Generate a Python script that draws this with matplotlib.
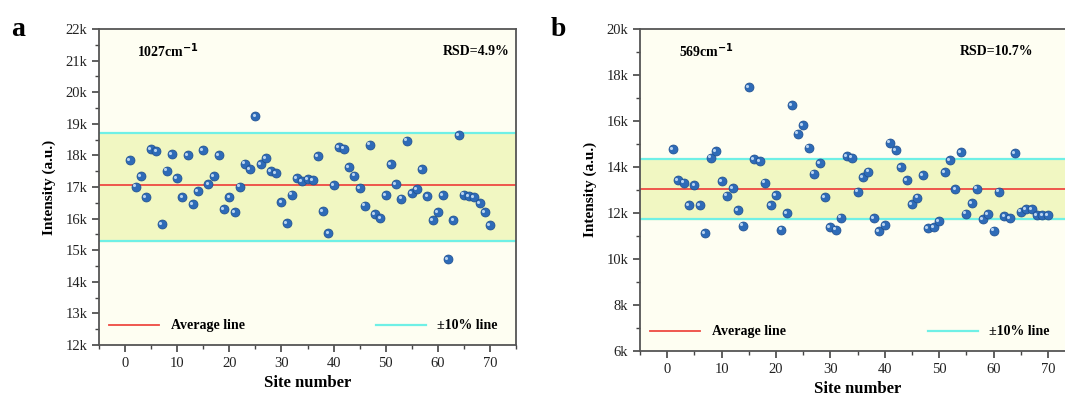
import matplotlib
matplotlib.use("Agg")
import matplotlib.pyplot as plt
from matplotlib.ticker import FuncFormatter, MultipleLocator
from matplotlib.lines import Line2D
import numpy as np

plt.rcParams['font.family'] = ['Liberation Serif', 'DejaVu Serif']

# Panel a: 1027 cm-1 band intensity per site
sites = np.arange(1, 71)
int_a = [17850, 17010, 17340, 16670, 18200, 18130, 15830, 17520, 18030, 17280,
         16690, 18000, 16460, 16870, 18160, 17100, 17350, 18010, 16310, 16680,
         16210, 17010, 17740, 17560, 19250, 17720, 17920, 17510, 17440, 16520,
         15860, 16760, 17280, 17190, 17260, 17210, 17980, 16240, 15550, 17050,
         18260, 18210, 17630, 17360, 16960, 16410, 18340, 16150, 16020, 16750,
         17720, 17080, 16630, 18470, 16800, 16930, 17570, 16710, 15950, 16210,
         16750, 14710, 15960, 18650, 16760, 16710, 16670, 16480, 16210, 15800]
avg_a = 17070
band_a = (15300, 18700)
peak_a = "1027cm$^{\\mathbf{-1}}$"
rsd_a = "RSD=4.9%"

# Panel b: 569 cm-1 band intensity per site
int_b = [14770, 13410, 13310, 12340, 13210, 12330, 11120, 14400, 14670, 13380,
         12750, 13070, 12120, 11440, 17450, 14340, 14250, 13310, 12330, 12780,
         11270, 11990, 16670, 15440, 15800, 14830, 13700, 14170, 12680, 11370,
         11270, 11790, 14460, 14400, 12920, 13540, 13790, 11780, 11210, 11460,
         15050, 14730, 13990, 13430, 12380, 12660, 13630, 11330, 11370, 11630,
         13760, 14280, 13040, 14640, 11960, 12430, 13050, 11720, 11940, 11230,
         12920, 11860, 11780, 14600, 12050, 12170, 12170, 11890, 11910, 11910]
avg_b = 13040
band_b = (11720, 14350)
peak_b = "569cm$^{\\mathbf{-1}}$"
rsd_b = "RSD=10.7%"

bg = '#FEFEF2'
band_col = '#F1F7C2'
cyan = '#6FF0E6'
red = '#EE4A42'
ball = '#2E6BB8'

fig = plt.figure(figsize=(10.65, 3.97), dpi=100)
ax_a = fig.add_axes([0.093, 0.131, 0.3915, 0.796])
ax_b = fig.add_axes([0.601, 0.116, 0.4085, 0.812])

kfmt = FuncFormatter(lambda v, p: f"{int(round(v / 1000))}k")


def draw_panel(ax, y, avg, band, ylim, ymaj, peak, rsd, rsd_x, leg_x):
    ax.set_facecolor(bg)
    ax.axhspan(band[0], band[1], color=band_col, zorder=0)
    ax.axhline(band[0], color=cyan, lw=1.6, zorder=1)
    ax.axhline(band[1], color=cyan, lw=1.6, zorder=1)
    ax.axhline(avg, color=red, lw=1.3, zorder=1)
    ax.scatter(sites, y, s=42, color=ball, edgecolor='#1F4E8C', linewidth=0.5, zorder=3)
    ax.scatter(sites - 0.35, np.array(y) + (ylim[1] - ylim[0]) * 0.004, s=5,
               color='#B9D3F0', linewidth=0, zorder=4)

    ax.set_xlim(-5, 75)
    ax.set_ylim(*ylim)
    ax.xaxis.set_major_locator(MultipleLocator(10))
    ax.xaxis.set_minor_locator(MultipleLocator(5))
    ax.yaxis.set_major_locator(MultipleLocator(ymaj))
    ax.yaxis.set_minor_locator(MultipleLocator(ymaj / 2))
    ax.yaxis.set_major_formatter(kfmt)
    ax.tick_params(which='major', length=5, width=1.2, labelsize=10.5,
                   color='#444444', labelcolor='#222222')
    ax.tick_params(which='minor', length=3, width=1.0, color='#444444')
    for sp in ax.spines.values():
        sp.set_color('#555555')
        sp.set_linewidth(1.3)

    ax.set_xlabel("Site number", fontsize=12, fontweight='bold', labelpad=4)
    ax.set_ylabel("Intensity (a.u.)", fontsize=11, fontweight='bold', labelpad=7)

    ax.text(0.09, 0.93, peak, transform=ax.transAxes, fontsize=10,
            fontweight='bold', va='center', ha='left')
    ax.text(rsd_x, 0.93, rsd, transform=ax.transAxes,
            fontsize=10, fontweight='bold', va='center', ha='right')

    h1 = Line2D([], [], color=red, lw=1.3)
    h2 = Line2D([], [], color=cyan, lw=1.6)
    leg1 = ax.legend([h1], ["Average line"], loc='lower left', frameon=False,
                     bbox_to_anchor=(-0.005, 0.0), prop={'weight': 'bold', 'size': 10},
                     handlelength=3.6)
    ax.add_artist(leg1)
    ax.legend([h2], ["\u00b110% line"], loc='lower right', frameon=False,
              bbox_to_anchor=(leg_x, 0.0),
              prop={'weight': 'bold', 'size': 10}, handlelength=3.6)


draw_panel(ax_a, int_a, avg_a, band_a, (12000, 22000), 1000, peak_a, rsd_a, 0.985, 0.985)
draw_panel(ax_b, int_b, avg_b, band_b, (6000, 20000), 2000, peak_b, rsd_b, 0.905, 0.97)

fig.text(0.01, 0.925, "a", fontsize=20, fontweight='bold', va='center')
fig.text(0.517, 0.925, "b", fontsize=20, fontweight='bold', va='center')

fig.savefig("out.png", dpi=100)
